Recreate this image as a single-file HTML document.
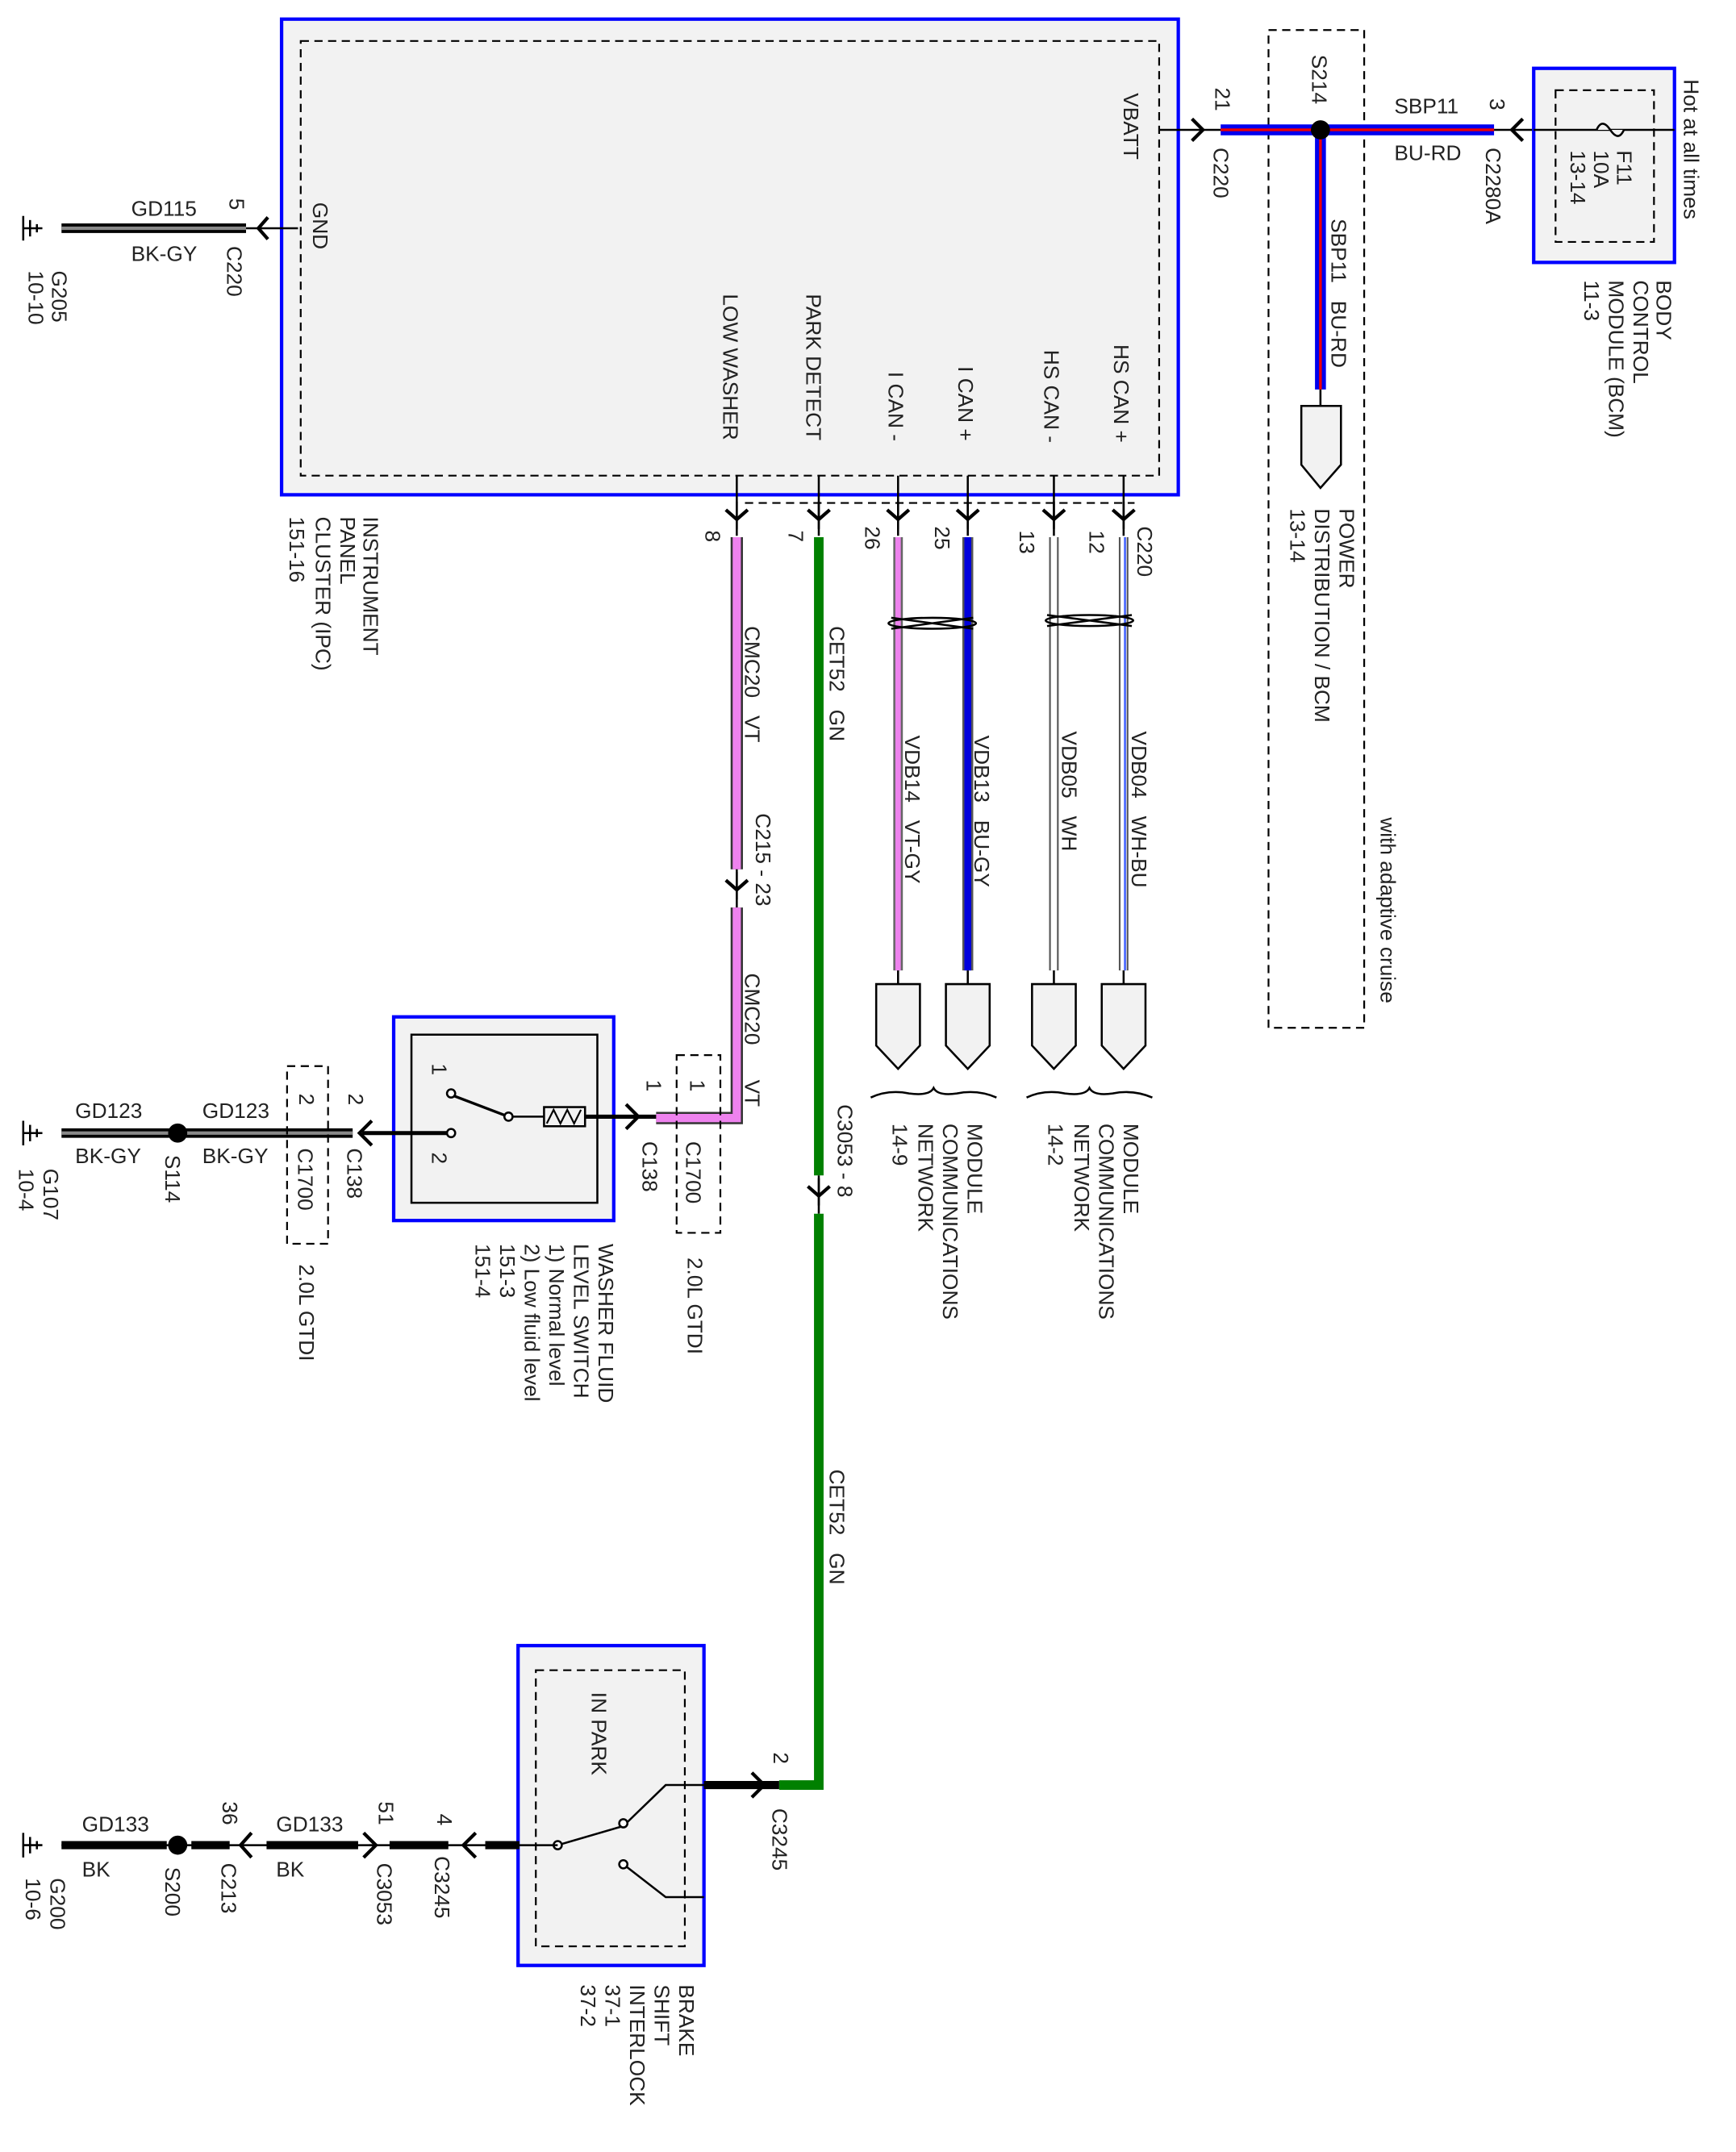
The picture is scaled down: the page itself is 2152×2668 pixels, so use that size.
<!DOCTYPE html>
<html><head><meta charset="utf-8"><style>
html,body{margin:0;padding:0;background:#fff;}
svg{display:block;}
text{font-family:"Liberation Sans",sans-serif;font-size:15.5px;fill:#222;white-space:pre;}
</style></head><body>
<svg width="2152" height="2668" viewBox="0 0 1270 1574.5" preserveAspectRatio="none" xmlns="http://www.w3.org/2000/svg">
<defs>
<g id="cd"><path d="M-8,-6 L0,1 L8,-6" fill="none" stroke="#000" stroke-width="2.5"/><line x1="0" y1="-12" x2="0" y2="8" stroke="#000" stroke-width="1.5"/></g>
<g id="gnd"><line x1="0" y1="0" x2="14" y2="0" stroke="#000" stroke-width="1.5"/><line x1="14" y1="-9" x2="14" y2="9" stroke="#000" stroke-width="1.5"/><line x1="9" y1="-6" x2="9" y2="6" stroke="#000" stroke-width="1.5"/><line x1="4" y1="-3" x2="4" y2="3" stroke="#000" stroke-width="1.5"/></g>
</defs>

<!-- IPC -->
<rect x="206" y="14" width="656" height="348" fill="#f2f2f2" stroke="#0000ff" stroke-width="2.5"/>
<rect x="220" y="30" width="628" height="318" fill="none" stroke="#000" stroke-width="1.3" stroke-dasharray="6,4"/>
<text transform="translate(822,68) rotate(90)">VBATT</text>
<text transform="translate(229,148) rotate(90)">GND</text>
<text transform="translate(529,215) rotate(90)">LOW WASHER</text>
<text transform="translate(590,215) rotate(90)">PARK DETECT</text>
<text transform="translate(650,272) rotate(90)">I CAN -</text>
<text transform="translate(701,268) rotate(90)">I CAN +</text>
<text transform="translate(764,256) rotate(90)">HS CAN -</text>
<text transform="translate(815,252) rotate(90)">HS CAN +</text>
<text transform="translate(266,378) rotate(90)">INSTRUMENT</text>
<text transform="translate(249,378) rotate(90)">PANEL</text>
<text transform="translate(231,378) rotate(90)">CLUSTER (IPC)</text>
<text transform="translate(212,378) rotate(90)">151-16</text>

<!-- GND wire -->
<line x1="180" y1="167" x2="218" y2="167" stroke="#000" stroke-width="1.5"/>
<path d="M196,159 L189,167 L196,175" fill="none" stroke="#000" stroke-width="2.5"/>
<line x1="45" y1="167" x2="180" y2="167" stroke="#000" stroke-width="7"/>
<line x1="45" y1="167" x2="180" y2="167" stroke="#888" stroke-width="2.5"/>
<use href="#gnd" transform="translate(31,167) rotate(180)"/>
<text x="96" y="158">GD115</text>
<text x="96" y="191">BK-GY</text>
<text transform="translate(168,145) rotate(90)">5</text>
<text transform="translate(166,180) rotate(90)">C220</text>
<text transform="translate(38,198) rotate(90)">G205</text>
<text transform="translate(21,198) rotate(90)">10-10</text>

<!-- connectors under IPC -->
<line x1="545" y1="368" x2="830" y2="368" stroke="#000" stroke-width="1.3" stroke-dasharray="6,4"/>
<g stroke="#000" stroke-width="1.5">
<line x1="539" y1="348" x2="539" y2="392"/><line x1="599" y1="348" x2="599" y2="392"/>
<line x1="657" y1="348" x2="657" y2="392"/><line x1="708" y1="348" x2="708" y2="392"/>
<line x1="771" y1="348" x2="771" y2="392"/><line x1="822" y1="348" x2="822" y2="392"/>
</g>
<use href="#cd" transform="translate(539,379)"/><use href="#cd" transform="translate(599,379)"/>
<use href="#cd" transform="translate(657,379)"/><use href="#cd" transform="translate(708,379)"/>
<use href="#cd" transform="translate(771,379)"/><use href="#cd" transform="translate(822,379)"/>
<text transform="translate(516,388) rotate(90)">8</text>
<text transform="translate(577,388) rotate(90)">7</text>
<text transform="translate(633,385) rotate(90)">26</text>
<text transform="translate(684,385) rotate(90)">25</text>
<text transform="translate(746,388) rotate(90)">13</text>
<text transform="translate(797,388) rotate(90)">12</text>
<text transform="translate(832,385) rotate(90)">C220</text>

<!-- LOW WASHER wire -->
<line x1="539" y1="393" x2="539" y2="636" stroke="#333" stroke-width="9"/>
<line x1="539" y1="393" x2="539" y2="636" stroke="#ee82ee" stroke-width="6"/>
<line x1="539" y1="636" x2="539" y2="664" stroke="#000" stroke-width="1.5"/>
<use href="#cd" transform="translate(539,650)"/>
<path d="M539,664 L539,818 L480,818" fill="none" stroke="#333" stroke-width="9"/>
<path d="M539,664 L539,818 L480,818" fill="none" stroke="#ee82ee" stroke-width="6"/>
<text transform="translate(545,458) rotate(90)">CMC20   VT</text>
<text transform="translate(553,595) rotate(90)">C215 - 23</text>
<text transform="translate(545,712) rotate(90)">CMC20</text>
<text transform="translate(545,790) rotate(90)">VT</text>

<!-- PARK DETECT wire -->
<line x1="599" y1="393" x2="599" y2="860" stroke="#008000" stroke-width="7"/>
<line x1="599" y1="860" x2="599" y2="888" stroke="#000" stroke-width="1.5"/>
<use href="#cd" transform="translate(599,874)"/>
<path d="M599,888 L599,1306 L570,1306" fill="none" stroke="#008000" stroke-width="7"/>
<text transform="translate(607,458) rotate(90)">CET52   GN</text>
<text transform="translate(607,1075) rotate(90)">CET52   GN</text>
<text transform="translate(613,808) rotate(90)">C3053 - 8</text>

<!-- CAN wires -->
<line x1="657" y1="393" x2="657" y2="710" stroke="#666" stroke-width="7"/>
<line x1="657" y1="393" x2="657" y2="710" stroke="#ee82ee" stroke-width="4"/>
<line x1="708" y1="393" x2="708" y2="710" stroke="#555" stroke-width="8"/>
<line x1="708" y1="393" x2="708" y2="710" stroke="#0000dd" stroke-width="5"/>
<line x1="771" y1="393" x2="771" y2="710" stroke="#555" stroke-width="7"/>
<line x1="771" y1="393" x2="771" y2="710" stroke="#fff" stroke-width="4.5"/>
<line x1="822" y1="393" x2="822" y2="710" stroke="#555" stroke-width="7"/>
<line x1="822" y1="393" x2="822" y2="710" stroke="#fff" stroke-width="4.5"/>
<line x1="823" y1="393" x2="823" y2="710" stroke="#4060ff" stroke-width="1.5"/>
<g fill="none" stroke="#000" stroke-width="1.5">
<ellipse cx="682" cy="456" rx="32" ry="4"/><line x1="652" y1="452" x2="712" y2="460"/><line x1="652" y1="460" x2="712" y2="452"/>
<ellipse cx="797" cy="454" rx="32" ry="4"/><line x1="766" y1="450" x2="828" y2="458"/><line x1="766" y1="458" x2="828" y2="450"/>
</g>
<g fill="#f2f2f2" stroke="#000" stroke-width="1.5">
<path d="M641,720 H673 V765 L657,782 L641,765 Z"/><path d="M692,720 H724 V765 L708,782 L692,765 Z"/>
<path d="M755,720 H787 V765 L771,782 L755,765 Z"/><path d="M806,720 H838 V765 L822,782 L806,765 Z"/>
<path d="M952,297 H981 V340 L966,357 L952,340 Z"/>
</g>
<line x1="657" y1="710" x2="657" y2="720" stroke="#000" stroke-width="1.5"/>
<line x1="708" y1="710" x2="708" y2="720" stroke="#000" stroke-width="1.5"/>
<line x1="771" y1="710" x2="771" y2="720" stroke="#000" stroke-width="1.5"/>
<line x1="822" y1="710" x2="822" y2="720" stroke="#000" stroke-width="1.5"/>
<g fill="none" stroke="#000" stroke-width="1.5">
<path d="M637,803 Q650,797 665,800 Q680,802 683,796 Q686,802 700,800 Q715,797 729,803"/>
<path d="M751,803 Q764,797 779,800 Q794,802 797,796 Q800,802 814,800 Q829,797 843,803"/>
</g>
<text transform="translate(662,538) rotate(90)">VDB14   VT-GY</text>
<text transform="translate(713,538) rotate(90)">VDB13   BU-GY</text>
<text transform="translate(777,535) rotate(90)">VDB05   WH</text>
<text transform="translate(828,535) rotate(90)">VDB04   WH-BU</text>
<text transform="translate(708,822) rotate(90)">MODULE</text>
<text transform="translate(690,822) rotate(90)">COMMUNICATIONS</text>
<text transform="translate(672,822) rotate(90)">NETWORK</text>
<text transform="translate(653,822) rotate(90)">14-9</text>
<text transform="translate(822,822) rotate(90)">MODULE</text>
<text transform="translate(804,822) rotate(90)">COMMUNICATIONS</text>
<text transform="translate(786,822) rotate(90)">NETWORK</text>
<text transform="translate(767,822) rotate(90)">14-2</text>

<!-- VBATT / S214 -->
<rect x="928" y="22" width="70" height="730" fill="none" stroke="#000" stroke-width="1.3" stroke-dasharray="6,4"/>
<text transform="translate(1010,598) rotate(90)">with adaptive cruise</text>
<line x1="848" y1="95" x2="893" y2="95" stroke="#000" stroke-width="1.5"/>
<path d="M872,87 L880,95 L872,103" fill="none" stroke="#000" stroke-width="2.5"/>
<line x1="893" y1="95" x2="1093" y2="95" stroke="#0000ee" stroke-width="8"/>
<line x1="893" y1="95" x2="1093" y2="95" stroke="#e00" stroke-width="2"/>
<line x1="966" y1="95" x2="966" y2="285" stroke="#0000ee" stroke-width="8"/>
<line x1="966" y1="95" x2="966" y2="285" stroke="#e00" stroke-width="2"/>
<line x1="966" y1="285" x2="966" y2="297" stroke="#000" stroke-width="1.5"/>
<circle cx="966" cy="95" r="7" fill="#000"/>
<text transform="translate(889,64) rotate(90)">21</text>
<text transform="translate(888,108) rotate(90)">C220</text>
<text transform="translate(960,40) rotate(90)">S214</text>
<text transform="translate(974,160) rotate(90)">SBP11   BU-RD</text>
<text transform="translate(980,372) rotate(90)">POWER</text>
<text transform="translate(962,372) rotate(90)">DISTRIBUTION / BCM</text>
<text transform="translate(944,372) rotate(90)">13-14</text>
<text x="1020" y="83">SBP11</text>
<text x="1020" y="117">BU-RD</text>
<text transform="translate(1090,72) rotate(90)">3</text>
<text transform="translate(1087,108) rotate(90)">C2280A</text>
<line x1="1093" y1="95" x2="1225" y2="95" stroke="#000" stroke-width="1.5"/>
<path d="M1114,87 L1106,95 L1114,103" fill="none" stroke="#000" stroke-width="2.5"/>
<rect x="1122" y="50" width="103" height="142" fill="#f2f2f2" stroke="#0000ff" stroke-width="2.5"/>
<rect x="1138" y="66" width="72" height="111" fill="none" stroke="#000" stroke-width="1.3" stroke-dasharray="6,4"/>
<line x1="1122" y1="95" x2="1225" y2="95" stroke="#000" stroke-width="1.5"/>
<path d="M1168,95 Q1172,86 1178,95 Q1184,104 1188,95" fill="#f2f2f2" stroke="#000" stroke-width="1.5"/>
<text transform="translate(1183,110) rotate(90)">F11</text>
<text transform="translate(1166,110) rotate(90)">10A</text>
<text transform="translate(1149,110) rotate(90)">13-14</text>
<text transform="translate(1232,58) rotate(90)">Hot at all times</text>
<text transform="translate(1212,205) rotate(90)">BODY</text>
<text transform="translate(1195,205) rotate(90)">CONTROL</text>
<text transform="translate(1177,205) rotate(90)">MODULE (BCM)</text>
<text transform="translate(1159,205) rotate(90)">11-3</text>

<!-- Washer switch -->
<rect x="288" y="744" width="161" height="149" fill="#f2f2f2" stroke="#0000ff" stroke-width="2.5"/>
<rect x="301" y="757" width="136" height="123" fill="none" stroke="#000" stroke-width="1.5"/>
<line x1="330" y1="801" x2="372" y2="817" stroke="#000" stroke-width="2"/>
<line x1="372" y1="817" x2="398" y2="817" stroke="#000" stroke-width="1.5"/>
<rect x="398" y="810" width="30" height="14" fill="#f2f2f2" stroke="#000" stroke-width="1.5"/>
<path d="M400,822 L405,812 L410,822 L415,812 L420,822 L425,812" fill="none" stroke="#000" stroke-width="1.3"/>
<line x1="428" y1="817" x2="480" y2="817" stroke="#000" stroke-width="3"/>
<path d="M458,808 L467,817 L458,826" fill="none" stroke="#000" stroke-width="2.5"/>
<circle cx="330" cy="800" r="3" fill="#fff" stroke="#000" stroke-width="1.5"/>
<circle cx="372" cy="817" r="3" fill="#fff" stroke="#000" stroke-width="1.5"/>
<circle cx="330" cy="829" r="3" fill="#fff" stroke="#000" stroke-width="1.5"/>
<line x1="265" y1="829" x2="327" y2="829" stroke="#000" stroke-width="3"/>
<path d="M272,820 L263,829 L272,838" fill="none" stroke="#000" stroke-width="2.5"/>
<text transform="translate(316,778) rotate(90)">1</text>
<text transform="translate(316,843) rotate(90)">2</text>
<rect x="495" y="772" width="32" height="130" fill="none" stroke="#000" stroke-width="1.3" stroke-dasharray="6,4"/>
<text transform="translate(473,790) rotate(90)">1</text>
<text transform="translate(470,835) rotate(90)">C138</text>
<text transform="translate(505,790) rotate(90)">1</text>
<text transform="translate(502,835) rotate(90)">C1700</text>
<text transform="translate(503,920) rotate(90)">2.0L GTDI</text>
<line x1="45" y1="829" x2="258" y2="829" stroke="#000" stroke-width="7"/>
<line x1="45" y1="829" x2="258" y2="829" stroke="#888" stroke-width="2.5"/>
<circle cx="130" cy="829" r="7" fill="#000"/>
<use href="#gnd" transform="translate(31,829) rotate(180)"/>
<rect x="210" y="780" width="30" height="130" fill="none" stroke="#000" stroke-width="1.3" stroke-dasharray="6,4"/>
<text x="55" y="818">GD123</text><text x="55" y="851">BK-GY</text>
<text x="148" y="818">GD123</text><text x="148" y="851">BK-GY</text>
<text transform="translate(219,800) rotate(90)">2</text>
<text transform="translate(218,840) rotate(90)">C1700</text>
<text transform="translate(255,800) rotate(90)">2</text>
<text transform="translate(254,840) rotate(90)">C138</text>
<text transform="translate(219,925) rotate(90)">2.0L GTDI</text>
<text transform="translate(121,845) rotate(90)">S114</text>
<text transform="translate(32,855) rotate(90)">G107</text>
<text transform="translate(14,855) rotate(90)">10-4</text>
<text transform="translate(438,910) rotate(90)">WASHER FLUID</text>
<text transform="translate(420,910) rotate(90)">LEVEL SWITCH</text>
<text transform="translate(402,910) rotate(90)">1) Normal level</text>
<text transform="translate(384,910) rotate(90)">2) Low fluid level</text>
<text transform="translate(366,910) rotate(90)">151-3</text>
<text transform="translate(348,910) rotate(90)">151-4</text>

<!-- Brake shift interlock -->
<rect x="379" y="1204" width="136" height="234" fill="#f2f2f2" stroke="#0000ff" stroke-width="2.5"/>
<rect x="392" y="1222" width="109" height="202" fill="none" stroke="#000" stroke-width="1.3" stroke-dasharray="6,4"/>
<text transform="translate(433,1238) rotate(90)">IN PARK</text>
<g stroke="#000" stroke-width="1.5" fill="none">
<line x1="408" y1="1350" x2="456" y2="1336"/>
<path d="M456,1336 L487,1306 L515,1306"/>
<path d="M456,1364 L487,1388 L515,1388"/>
</g>
<circle cx="408" cy="1350" r="3" fill="#fff" stroke="#000" stroke-width="1.5"/>
<circle cx="456" cy="1334" r="3" fill="#fff" stroke="#000" stroke-width="1.5"/>
<circle cx="456" cy="1364" r="3" fill="#fff" stroke="#000" stroke-width="1.5"/>
<line x1="515" y1="1306" x2="570" y2="1306" stroke="#000" stroke-width="6"/>
<path d="M550,1297 L559,1306 L550,1315" fill="none" stroke="#000" stroke-width="2.5"/>
<text transform="translate(566,1282) rotate(90)">2</text>
<text transform="translate(565,1323) rotate(90)">C3245</text>
<line x1="340" y1="1350" x2="408" y2="1350" stroke="#000" stroke-width="1.5"/>
<line x1="355" y1="1350" x2="380" y2="1350" stroke="#000" stroke-width="6"/>
<path d="M348,1341 L339,1350 L348,1359" fill="none" stroke="#000" stroke-width="2.5"/>
<line x1="270" y1="1350" x2="340" y2="1350" stroke="#000" stroke-width="1.5"/>
<line x1="285" y1="1350" x2="328" y2="1350" stroke="#000" stroke-width="6"/>
<path d="M266,1341 L275,1350 L266,1359" fill="none" stroke="#000" stroke-width="2.5"/>
<line x1="180" y1="1350" x2="275" y2="1350" stroke="#000" stroke-width="1.5"/>
<line x1="195" y1="1350" x2="262" y2="1350" stroke="#000" stroke-width="6"/>
<path d="M184,1341 L176,1350 L184,1359" fill="none" stroke="#000" stroke-width="2.5"/>
<line x1="45" y1="1350" x2="180" y2="1350" stroke="#000" stroke-width="1.5"/>
<line x1="140" y1="1350" x2="168" y2="1350" stroke="#000" stroke-width="6"/>
<line x1="45" y1="1350" x2="122" y2="1350" stroke="#000" stroke-width="6"/>
<circle cx="130" cy="1350" r="7" fill="#000"/>
<use href="#gnd" transform="translate(31,1350) rotate(180)"/>
<text x="60" y="1340">GD133</text><text x="60" y="1373">BK</text>
<text x="202" y="1340">GD133</text><text x="202" y="1373">BK</text>
<text transform="translate(163,1318) rotate(90)">36</text>
<text transform="translate(162,1363) rotate(90)">C213</text>
<text transform="translate(277,1318) rotate(90)">51</text>
<text transform="translate(276,1363) rotate(90)">C3053</text>
<text transform="translate(320,1327) rotate(90)">4</text>
<text transform="translate(318,1358) rotate(90)">C3245</text>
<text transform="translate(121,1366) rotate(90)">S200</text>
<text transform="translate(37,1374) rotate(90)">G200</text>
<text transform="translate(19,1374) rotate(90)">10-6</text>
<text transform="translate(497,1452) rotate(90)">BRAKE</text>
<text transform="translate(479,1452) rotate(90)">SHIFT</text>
<text transform="translate(461,1452) rotate(90)">INTERLOCK</text>
<text transform="translate(443,1452) rotate(90)">37-1</text>
<text transform="translate(425,1452) rotate(90)">37-2</text>
</svg>
</body></html>
